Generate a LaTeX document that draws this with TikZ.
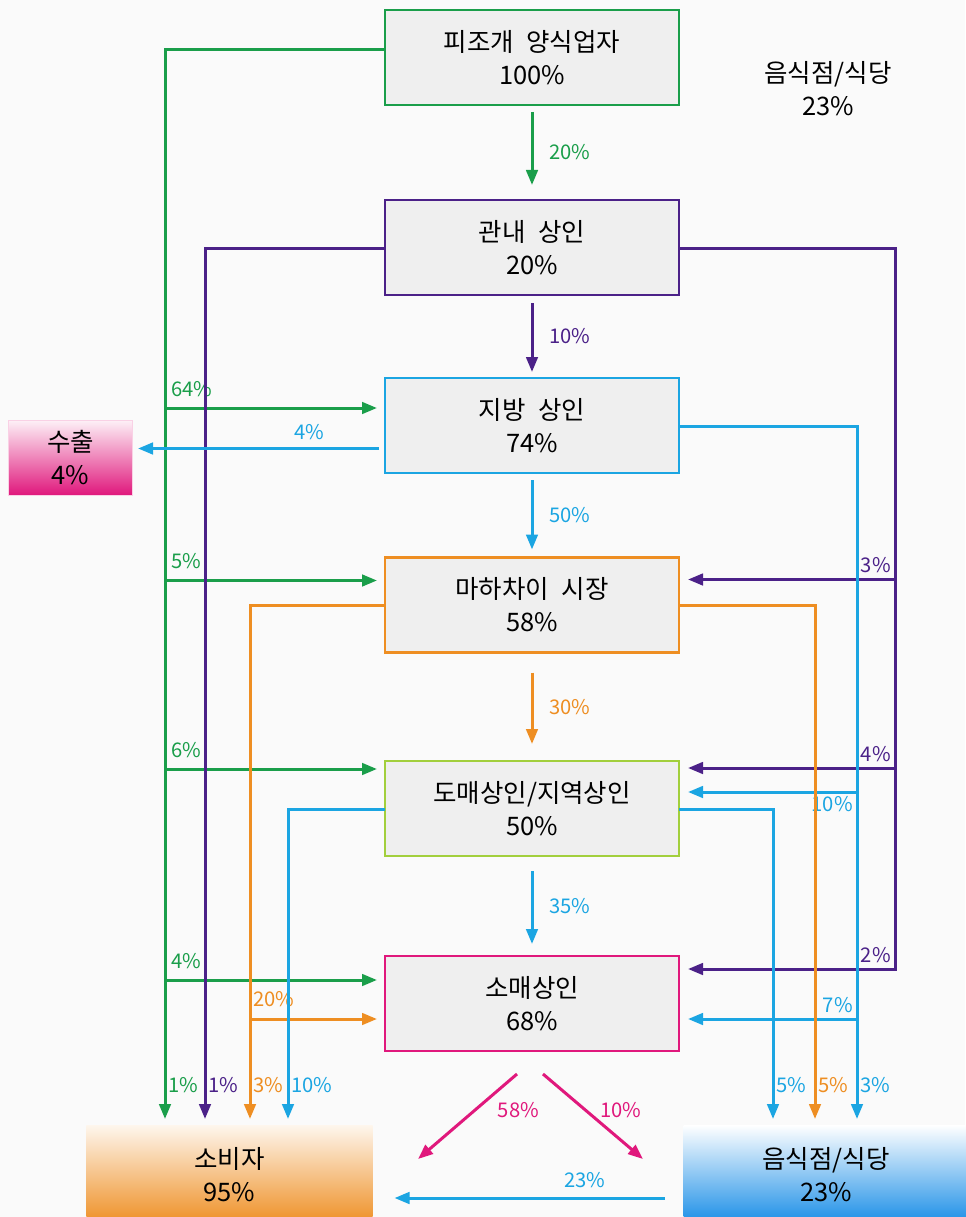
\documentclass[tikz,border=0pt]{standalone}
\usepackage{fontspec}
\setmainfont{Noto Sans CJK KR}[WordSpace=2.2]
\usepackage{tikz}
\usetikzlibrary{positioning,arrows.meta,calc}

\definecolor{seedgreen}{HTML}{1A9E4A}
\definecolor{seedpurple}{HTML}{4B2188}
\definecolor{seedblue}{HTML}{1BA5E2}
\definecolor{seedorange}{HTML}{EE8E22}
\definecolor{seedpink}{HTML}{E0187C}
\definecolor{seedlime}{HTML}{A2CF3C}
\definecolor{boxgray}{HTML}{EFEFEF}
\definecolor{paper}{HTML}{FAFAFA}

\begin{document}
\begin{tikzpicture}[x=0.2mm,y=-0.2mm,
  every node/.style={font=\fontsize{14.5}{18.8}\selectfont},
  stage/.style={rectangle,draw=#1,line width=0.45mm,fill=boxgray,minimum width=58.8mm,minimum height=19mm,align=center,inner sep=0pt,outer sep=0pt},
  sink/.style={rectangle,align=center,inner sep=0pt,outer sep=0pt},
  flow/.style={draw=#1,line width=0.6mm,-{Triangle[length=3mm,width=2.3mm]}},
  pct/.style={text=#1,font=\fontsize{11.5}{13}\selectfont,inner sep=0.5pt},
]
\fill[paper] (0,0) rectangle (965,1217);
\useasboundingbox (0,0) rectangle (965,1217);

% stages
\node (farm) [stage=seedgreen] at (532,57.5) {피조개 양식업자\\100\%};
\node (local) [stage=seedpurple] at (532,247.5) {관내 상인\\20\%};
\node (region) [stage=seedblue] at (532,425.5) {지방 상인\\74\%};
\node (market) [stage=seedorange] at (532,605) {마하차이 시장\\58\%};
\node (whole) [stage=seedlime] at (532,808.5) {도매상인/지역상인\\50\%};
\node (retail) [stage=seedpink] at (532,1003.5) {소매상인\\68\%};

% end points
\node (export) [sink,minimum width=24.6mm,minimum height=15mm,top color=seedpink!6,bottom color=seedpink,draw=seedpink!20,line width=0.2mm] at (70.5,457.5) {수출\\4\%};
\node (consumer) [sink,minimum width=57.2mm,minimum height=20mm,top color=seedorange!8,bottom color=seedorange] at (229.5,1175) {소비자\\95\%};
\node (eatery) [sink,minimum width=57mm,minimum height=20mm,top color=white,bottom color=seedblue!85!blue] at (826,1175) {음식점/식당\\23\%};
\node (note) [align=center] at (828,89) {음식점/식당\\23\%};

% main line
\draw[flow=seedgreen,shorten <=1.4mm,shorten >=3mm] (farm) -- (local) node[pct=seedgreen,midway,right=3mm] {20\%};
\draw[flow=seedpurple,shorten <=1.6mm,shorten >=1.2mm] (local) -- (region) node[pct=seedpurple,midway,right=3mm] {10\%};
\draw[flow=seedblue,shorten <=1.4mm,shorten >=1.6mm] (region) -- (market) node[pct=seedblue,midway,right=3mm] {50\%};
\draw[flow=seedorange,shorten <=4mm,shorten >=3.4mm] (market) -- (whole) node[pct=seedorange,midway,right=3mm] {30\%};
\draw[flow=seedblue,shorten <=3mm,shorten >=2.4mm] (whole) -- (retail) node[pct=seedblue,midway,right=3mm] {35\%};

% farm -> left trunk
\coordinate (gx) at (165,50);
\draw[flow=seedgreen,shorten >=1.2mm] (farm.west |- gx) -- (gx) -- (gx |- consumer.north);
\draw[flow=seedgreen,shorten >=1.6mm] ($(gx |- region.north)+(0,30)$) -- ($(region.north west)+(0,30)$)
  node[pct=seedgreen,pos=0,anchor=south west,xshift=0.8mm,yshift=1.8mm] {64\%};
\draw[flow=seedgreen,shorten >=1.6mm] ($(gx |- market.north)+(0,23)$) -- ($(market.north west)+(0,23)$)
  node[pct=seedgreen,pos=0,anchor=south west,xshift=0.8mm,yshift=1.8mm] {5\%};
\draw[flow=seedgreen,shorten >=1.6mm] ($(gx |- whole.north)+(0,8)$) -- ($(whole.north west)+(0,8)$)
  node[pct=seedgreen,pos=0,anchor=south west,xshift=0.8mm,yshift=1.8mm] {6\%};
\draw[flow=seedgreen,shorten >=1.6mm] ($(gx |- retail.north)+(0,24)$) -- ($(retail.north west)+(0,24)$)
  node[pct=seedgreen,pos=0,anchor=south west,xshift=0.8mm,yshift=1.8mm] {4\%};

% local traders
\coordinate (plx) at (205,248);
\draw[flow=seedpurple,shorten >=1.2mm] (local.west |- plx) -- (plx) -- (plx |- consumer.north);
\coordinate (prx) at (895,248);
\draw[flow=seedpurple,shorten >=1.8mm] (local.east |- prx) -- (prx) -- ($(prx |- retail.north)+(0,13)$) -- ($(retail.north east)+(0,13)$)
  node[pct=seedpurple,pos=0,anchor=south east,xshift=-0.4mm,yshift=0.8mm] {2\%};
\draw[flow=seedpurple,shorten >=1.8mm] ($(prx |- market.north)+(0,22)$) -- ($(market.north east)+(0,22)$)
  node[pct=seedpurple,pos=0,anchor=south east,xshift=-0.4mm,yshift=0.8mm] {3\%};
\draw[flow=seedpurple,shorten >=1.8mm] ($(prx |- whole.north)+(0,7)$) -- ($(whole.north east)+(0,7)$)
  node[pct=seedpurple,pos=0,anchor=south east,xshift=-0.4mm,yshift=0.8mm] {4\%};

% regional traders
\draw[flow=seedblue,shorten <=1.2mm,shorten >=1.2mm] ($(region.west)+(0,23)$) -- ($(export.east |- region.west)+(0,23)$)
  node[pct=seedblue,pos=0.3,above=1.2mm] {4\%};
\coordinate (brx) at (857,426);
\draw[flow=seedblue,shorten >=1.2mm] (region.east |- brx) -- (brx) -- (brx |- eatery.north);
\draw[flow=seedblue,shorten >=1.8mm] ($(brx |- whole.north)+(0,31)$) -- ($(whole.north east)+(0,31)$)
  node[pct=seedblue,pos=0,anchor=north east,xshift=-0.4mm,yshift=-0.4mm] {10\%};
\draw[flow=seedblue,shorten >=1.8mm] ($(brx |- retail.north)+(0,63)$) -- ($(retail.north east)+(0,63)$)
  node[pct=seedblue,pos=0,anchor=south east,xshift=-0.4mm,yshift=0.8mm] {7\%};

% market
\coordinate (mlx) at (250,605);
\draw[flow=seedorange,shorten >=1.2mm] (market.west |- mlx) -- (mlx) -- (mlx |- consumer.north);
\draw[flow=seedorange,shorten >=1.6mm] ($(mlx |- retail.north)+(0,63)$) -- ($(retail.north west)+(0,63)$)
  node[pct=seedorange,pos=0,anchor=south west,xshift=0.2mm,yshift=2mm] {20\%};
\coordinate (mrx) at (815,605);
\draw[flow=seedorange,shorten >=1.2mm] (market.east |- mrx) -- (mrx) -- (mrx |- eatery.north);

% wholesale
\coordinate (wlx) at (288,809);
\draw[flow=seedblue,shorten >=1.2mm] (whole.west |- wlx) -- (wlx) -- (wlx |- consumer.north);
\coordinate (wrx) at (773,809);
\draw[flow=seedblue,shorten >=1.2mm] (whole.east |- wrx) -- (wrx) -- (wrx |- eatery.north);

% shares at the bottom
\node[pct=seedgreen,anchor=west] at ($(gx |- consumer.north)+(2,-40)$) {1\%};
\node[pct=seedpurple,anchor=west] at ($(plx |- consumer.north)+(2,-40)$) {1\%};
\node[pct=seedorange,anchor=west] at ($(mlx |- consumer.north)+(2,-40)$) {3\%};
\node[pct=seedblue,anchor=west] at ($(wlx |- consumer.north)+(2,-40)$) {10\%};
\node[pct=seedblue,anchor=west] at ($(wrx |- eatery.north)+(2,-40)$) {5\%};
\node[pct=seedorange,anchor=west] at ($(mrx |- eatery.north)+(2,-40)$) {5\%};
\node[pct=seedblue,anchor=west] at ($(brx |- eatery.north)+(2,-40)$) {3\%};

% retail
\coordinate (sa) at ($(retail.south)+(-15,23)$);
\coordinate (sb) at ($(retail.south)+(-114,108)$);
\coordinate (ea) at ($(retail.south)+(11,23)$);
\coordinate (eb) at ($(retail.south)+(111,108)$);
\draw[flow=seedpink] (sa) -- (sb) node[pct=seedpink,pos=0.42,anchor=west,xshift=4mm] {58\%};
\draw[flow=seedpink] (ea) -- (eb) node[pct=seedpink,pos=0.42,anchor=west,xshift=2.6mm] {10\%};

% eatery -> consumer
\draw[flow=seedblue,shorten <=3.8mm,shorten >=4.4mm] ($(eatery.west)+(0,23)$) -- ($(consumer.east)+(0,23)$)
  node[pct=seedblue,pos=0.317,above=1.6mm] {23\%};
\end{tikzpicture}
\end{document}
